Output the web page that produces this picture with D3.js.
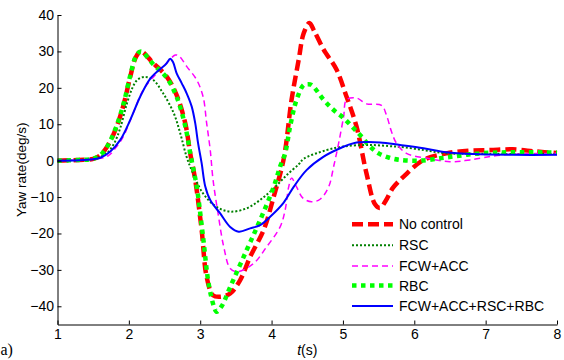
<!DOCTYPE html>
<html>
<head>
<meta charset="utf-8">
<script src="https://cdn.jsdelivr.net/npm/d3@7"></script>
<style>
  body { margin: 0; background: #fff; }
  svg text { font-family: "Liberation Sans", Arial, sans-serif; }
</style>
</head>
<body>
<div id="chart"></div>
<script>
// Yaw rate traces, [time (s), yaw rate (deg/s)]
var noControl = [[1,0],[1.3,0.2],[1.5,0.5],[1.6,1.5],[1.7,4],[1.81,8.4],[1.92,14.9],[2.02,23.1],[2.1,28.5],[2.17,30],
  [2.34,26.8],[2.53,23.1],[2.67,18],[2.79,10.3],[2.86,2],[2.93,-5.3],[3.02,-19],[3.09,-31.9],[3.18,-37],[3.28,-37.4],
  [3.42,-36.5],[3.56,-32.8],[3.7,-26.4],[3.89,-19],[4.03,-9.9],[4.17,0.5],[4.28,16.7],[4.38,27.7],[4.45,35],[4.53,37.8],
  [4.6,35.5],[4.73,30.5],[4.91,25],[5.05,17.6],[5.19,9.4],[5.33,-3.5],[5.45,-12],[5.52,-13],[5.6,-11],[5.7,-7.5],
  [5.85,-4.4],[6.13,0.2],[6.45,2],[6.78,2.75],[7.06,2.9],[7.38,3.1],[7.71,2.5],[8,2.1]];

var rsc = [[1,0],[1.3,0.2],[1.5,0.5],[1.69,2],[1.8,5],[1.88,9],[1.97,15.5],[2.05,20],[2.12,22.2],[2.22,23],
  [2.34,22.2],[2.48,18.5],[2.63,13],[2.72,7.5],[2.81,1],[2.88,-2.6],[3.04,-9],[3.23,-12.7],[3.42,-14],[3.65,-13.1],
  [3.84,-10.8],[4.03,-7.6],[4.21,-4],[4.38,-1],[4.45,0.5],[4.77,2.9],[5.01,3.9],[5.38,4.3],[5.71,3.9],[5.8,3.8],
  [6.13,2.9],[6.45,2],[6.92,1.9],[8,1.8]];

var fcwAcc = [[1,0],[1.3,0.2],[1.5,0.4],[1.7,1.2],[1.83,3.9],[1.92,6.5],[2.06,13],[2.2,19.4],[2.39,24],[2.53,26.8],
  [2.65,29],[2.7,28.8],[2.81,25.9],[2.95,22.2],[3.04,17.6],[3.09,10.3],[3.14,3],[3.18,-5.3],[3.25,-14.5],[3.33,-23.7],
  [3.42,-29.6],[3.52,-30.5],[3.75,-28.2],[3.93,-23.7],[4.12,-18.2],[4.19,-13.6],[4.24,-7.2],[4.28,-4.8],[4.35,-7.2],
  [4.44,-10.3],[4.56,-11.3],[4.68,-10.6],[4.8,-7.2],[4.87,-1.6],[4.94,4.8],[5.01,12.1],[5.05,16.7],[5.19,17.2],
  [5.33,15.6],[5.54,15.2],[5.61,12.5],[5.68,8],[5.75,4.8],[5.89,2],[6.17,0.7],[6.5,-0.3],[6.78,0.2],[7.25,1.6],[8,2]];

var rbc = [[1,0],[1.3,0.2],[1.5,0.5],[1.6,1.5],[1.7,4],[1.81,8.6],[1.92,15.2],[2.02,23.4],[2.1,28.7],[2.17,30],
  [2.34,26.5],[2.53,22.8],[2.67,17.5],[2.79,9.5],[2.87,1],[2.95,-7],[3.04,-21],[3.12,-34],[3.2,-40.5],[3.23,-41.5],
  [3.3,-40],[3.42,-34.7],[3.65,-24.6],[3.84,-16.3],[4.03,-7.2],[4.12,-1.6],[4.19,2],[4.26,9.4],[4.35,16.7],[4.45,20.8],
  [4.5,21],[4.56,20.8],[4.73,16.7],[4.87,13.9],[5.01,11.7],[5.15,8.9],[5.26,6.6],[5.38,3.9],[5.5,2],[5.65,0.8],
  [5.8,0.2],[6.08,0],[6.45,0.9],[6.92,2],[7.38,2.3],[8,2.2]];

var allSystems = [[1,0],[1.3,0.1],[1.5,0.4],[1.6,0.8],[1.74,2.5],[1.88,5.7],[2.02,11.2],[2.16,17.6],[2.3,22.5],
  [2.44,25.2],[2.52,26.5],[2.58,28],[2.62,27],[2.67,24],[2.74,21.3],[2.81,18.5],[2.88,14.9],[2.93,10.3],[2.97,4.8],
  [3.02,-0.7],[3.07,-7],[3.14,-10.8],[3.28,-14.5],[3.42,-18.2],[3.54,-19.5],[3.7,-18.6],[3.84,-17.7],[3.98,-15.4],
  [4.17,-11.5],[4.31,-7.2],[4.49,-2.6],[4.73,1.1],[4.96,3.4],[5.15,4.8],[5.52,5],[5.8,4.3],[6.13,3.4],[6.45,2.3],
  [6.83,1.8],[7.38,1.6],[8,1.6]];

var seriesNames = ['No control', 'RSC', 'FCW+ACC', 'RBC', 'FCW+ACC+RSC+RBC'];
var seriesData = [noControl, rsc, fcwAcc, rbc, allSystems];
var xTicks = [1, 2, 3, 4, 5, 6, 7, 8];
var yTicks = [-40, -30, -20, -10, 0, 10, 20, 30, 40];

// line styles per series
var styles = [
  { color: '#ff0000', width: 4.5, dash: '11,5' },
  { color: '#008000', width: 2, dash: '2,2' },
  { color: '#ff00ff', width: 1.5, dash: '6,4' },
  { color: '#00ff00', width: 4.5, dash: '4.5,4.5' },
  { color: '#0000ff', width: 2, dash: null }
];

var width = 564, height = 360;
var margin = { top: 15, right: 7, bottom: 35.5, left: 57.5 };

var svg = d3.select('#chart')
  .append('svg')
  .attr('width', width)
  .attr('height', height);

var x = d3.scaleLinear()
  .domain([1, 8])
  .range([margin.left, width - margin.right]);

var y = d3.scaleLinear()
  .domain([-45, 40])
  .range([height - margin.bottom, margin.top]);

var line = d3.line()
  .x(d => x(d[0]))
  .y(d => y(d[1]))
  .curve(d3.curveCatmullRom.alpha(0.5));

// curves (draw order like the original)
seriesData.forEach(function(data, i) {
  svg.append('path')
    .datum(data)
    .attr('d', line)
    .attr('fill', 'none')
    .attr('stroke', styles[i].color)
    .attr('stroke-width', styles[i].width)
    .attr('stroke-dasharray', styles[i].dash);
});

// axes, ticks pointing inward
var xAxis = svg.append('g')
  .attr('transform', `translate(0, ${height - margin.bottom})`)
  .call(d3.axisBottom(x).tickValues(xTicks).tickFormat(d3.format('d')).tickSizeInner(-4).tickSizeOuter(0).tickPadding(5));

var yAxis = svg.append('g')
  .attr('transform', `translate(${margin.left}, 0)`)
  .call(d3.axisLeft(y).tickValues(yTicks).tickFormat(d3.format('d')).tickSizeInner(-4).tickSizeOuter(0).tickPadding(3.5));

[xAxis, yAxis].forEach(function(g) {
  g.select('.domain').attr('stroke', '#000');
  g.selectAll('.tick line').attr('stroke', '#000');
  g.selectAll('text')
    .style('font-size', '14px')
    .style('font-family', '"Liberation Sans", Arial, sans-serif')
    .attr('fill', '#000');
});

// axis labels
svg.append('text')
  .attr('transform', `translate(26, ${(margin.top + height - margin.bottom) / 2}) rotate(-90)`)
  .style('text-anchor', 'middle')
  .style('font-size', '13.5px')
  .text('Yaw rate(deg/s)');

var xl = svg.append('text')
  .attr('x', (margin.left + width - margin.right) / 2)
  .attr('y', 355)
  .style('text-anchor', 'middle')
  .style('font-size', '14px');
xl.append('tspan').style('font-style', 'italic').text('t');
xl.append('tspan').text('(s)');

// panel letter (only "a)" is visible in the original)
svg.append('text')
  .attr('x', 0.5)
  .attr('y', 355)
  .style('font-family', '"Liberation Serif", "Times New Roman", serif')
  .style('font-size', '16px')
  .text('a)');

// legend
var legend = svg.append('g');
seriesNames.forEach(function(name, i) {
  var ly = [224.3, 245.3, 266, 285.5, 306][i];
  legend.append('line')
    .attr('x1', 352).attr('x2', 393)
    .attr('y1', ly).attr('y2', ly)
    .attr('stroke', styles[i].color)
    .attr('stroke-width', styles[i].width)
    .attr('stroke-dasharray', styles[i].dash);
  legend.append('text')
    .attr('x', 399)
    .attr('y', ly + 5)
    .style('font-size', '14px')
    .text(name);
});
</script>
</body>
</html>
